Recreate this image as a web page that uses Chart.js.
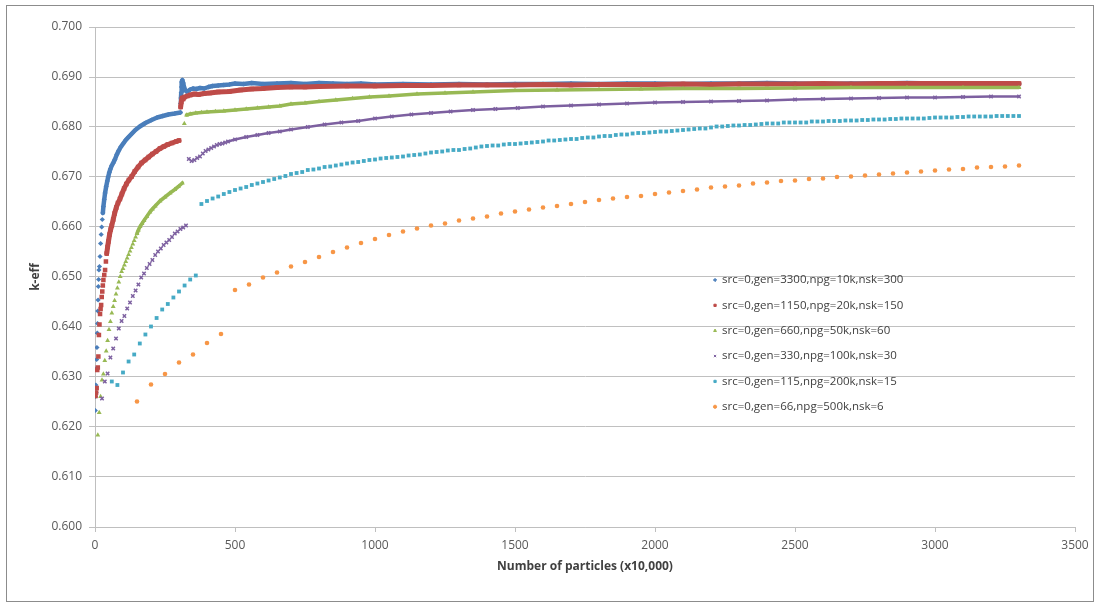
<!DOCTYPE html>
<html>
<head>
<meta charset="utf-8">
<title>k-eff convergence</title>
<script src="https://cdn.jsdelivr.net/npm/chart.js@4.4.1/dist/chart.umd.min.js"></script>
<style>
  html, body { margin: 0; padding: 0; background: #ffffff; }
  #wrap { position: relative; width: 1100px; height: 605px; }
</style>
</head>
<body>
<div id="wrap"><canvas id="chart" width="1100" height="605"></canvas></div>
<script>
// Series labels (legend)
const seriesLabels = [
  "src=0,gen=3300,npg=10k,nsk=300",
  "src=0,gen=1150,npg=20k,nsk=150",
  "src=0,gen=660,npg=50k,nsk=60",
  "src=0,gen=330,npg=100k,nsk=30",
  "src=0,gen=115,npg=200k,nsk=15",
  "src=0,gen=66,npg=500k,nsk=6"
];

// Axis ticks
const xTicks = [0, 500, 1000, 1500, 2000, 2500, 3000, 3500];
const yTicks = [0.600, 0.610, 0.620, 0.630, 0.640, 0.650, 0.660, 0.670, 0.680, 0.690, 0.700];

// gen=3300, npg=10k
const blueX = [1,2,3,4,5,6,7,8,9,10,11,12,13,14,16,18,20,22,24,26,28,30,
  33,36,40,44,47,51,55,60,65,71,78,85,92,101,110,120,132,144,160,180,202,222,242,262,285,305,
  306,307,308,309,310,312,315,318,322,327,333,340,350,362,375,390,405,420,440,460,480,500,
  530,560,600,650,700,750,800,850,900,950,1000,
  1100,1200,1300,1400,1500,1600,1700,1800,1900,2000,2100,2200,2300,2400,2500,2600,2700,2800,2900,3000,3100,3200,3300];
const blueY = [.6233,.6261,.6284,.6269,.6317,.6335,.6359,.6388,.6407,.6432,.6454,.6481,.6495,.6514,.6521,.6541,.6567,.6585,.6600,.6615,.6628,.6641,
  .6655,.6668,.6681,.6692,.6700,.6709,.6716,.6723,.6728,.6735,.6745,.6753,.6760,.6767,.6774,.6780,.6787,.6794,.6801,.6808,.6814,.6819,.6822,.6825,.6827,.6829,
  .6847,.6858,.6869,.6880,.6890,.6894,.6888,.6880,.6874,.6871,.6872,.6875,.6877,.6876,.6878,.6877,.6880,.6882,.6883,.6884,.6885,.6887,
  .6886,.6888,.6886,.6887,.6888,.6886,.6888,.6887,.6886,.6887,.6885,
  .6886,.6885,.6886,.6885,.6886,.6886,.6887,.6886,.6887,.6887,.6886,.6887,.6887,.6888,.6887,.6886,.6887,.6887,.6888,.6887,.6887,.6887,.6886];

// gen=1150, npg=20k
const redX = [2,4,6,8,10,12,14,16,18,20,22,24,26,28,30,33,36,39,42,45,48,
  52,56,60,65,70,76,82,89,96,104,112,121,131,142,154,166,179,192,205,218,232,246,260,275,290,300,
  306,308,311,315,320,330,340,355,370,390,410,440,480,520,560,600,650,700,750,800,
  900,1000,1100,1200,1300,1400,1500,1600,1700,1800,1900,2000,2100,2200,2300,2400,2500,2600,2700,2800,2900,3000,3100,3200,3300];
const redY = [.6262,.6269,.6278,.6314,.6319,.6341,.6384,.6405,.6426,.6436,.6444,.6460,.6471,.6483,.6494,.6504,.6514,.6531,.6547,.6560,.6571,
  .6585,.6595,.6603,.6615,.6627,.6639,.6648,.6656,.6666,.6677,.6686,.6694,.6701,.6711,.6720,.6728,.6734,.6740,.6746,.6751,.6757,.6761,.6765,.6768,.6771,.6773,
  .6840,.6850,.6858,.6856,.6860,.6862,.6864,.6866,.6865,.6867,.6868,.6870,.6871,.6874,.6876,.6877,.6879,.6880,.6880,.6881,
  .6882,.6882,.6883,.6883,.6884,.6884,.6884,.6885,.6884,.6885,.6885,.6885,.6886,.6885,.6886,.6886,.6886,.6887,.6886,.6887,.6887,.6887,.6887,.6887,.6887];

// gen=660, npg=50k
const greenX = [10,15,20,25,30,35,40,45,50,55,60,65,70,75,80,85,90,95,100,105,110,115,120,125,130,135,140,145,
  150,155,161,168,175,185,196,205,215,232,250,268,285,298,312,
  319,327,340,360,380,400,430,460,500,540,580,620,660,700,750,800,860,920,980,1050,1150,1250,1350,1500,1650,1800,1950,2100,2300,2500,2700,2900,3100,3300];
const greenY = [.6184,.6229,.6261,.6294,.6306,.6333,.6352,.6373,.6395,.6411,.6428,.6441,.6453,.6466,.6478,.6490,.6501,.6511,.6517,.6524,.6531,.6538,.6545,.6552,.6559,.6566,.6573,.6580,
  .6587,.6594,.6601,.6607,.6613,.6621,.6630,.6636,.6642,.6652,.6660,.6668,.6675,.6681,.6688,
  .6807,.6824,.6826,.6828,.6829,.6830,.6831,.6832,.6834,.6836,.6838,.6840,.6842,.6846,.6848,.6851,.6854,.6857,.6860,.6862,.6866,.6868,.6870,.6873,.6874,.6875,.6876,.6877,.6877,.6878,.6879,.6879,.6879,.6879];

// gen=330, npg=100k
const purpleX = [25,35,45,55,65,75,85,95,105,115,125,135,145,155,165,175,185,195,205,215,225,235,245,255,265,275,285,295,305,315,325,
  335,345,355,365,375,385,395,405,415,425,435,445,455,465,475,
  500,540,580,620,660,700,760,820,880,940,1000,1060,1130,1200,1270,1350,1430,1510,1600,1700,1800,1900,2000,2100,2200,2300,2400,2500,2600,2700,2800,2900,3000,3100,3200,3300];
const purpleY = [.6257,.6291,.6307,.6339,.6357,.6377,.6397,.6412,.6422,.6437,.6449,.6462,.6473,.6485,.6499,.6507,.6518,.6526,.6534,.6544,.6551,.6557,.6564,.6569,.6574,.6580,.6587,.6591,.6596,.6599,.6603,
  .6736,.6732,.6734,.6738,.6741,.6747,.6752,.6755,.6758,.6761,.6764,.6766,.6767,.6769,.6771,
  .6775,.6780,.6784,.6788,.6791,.6795,.6800,.6805,.6809,.6812,.6817,.6821,.6825,.6828,.6831,.6834,.6836,.6838,.6841,.6843,.6845,.6847,.6849,.6850,.6851,.6852,.6853,.6855,.6856,.6857,.6858,.6859,.6859,.6860,.6861,.6861];

// gen=115, npg=200k
const cyanX = [60,80,100,120,140,160,180,200,220,240,260,280,300,320,340,360,
  380,400,420,440,460,480,500,520,540,560,580,600,620,640,660,680,700,720,740,760,780,800,820,840,860,880,900,920,940,
  960,980,1000,1020,1040,1060,1080,1100,1120,1140,1160,1180,1200,1220,1240,1260,1280,1300,1320,1340,1360,1380,1400,1420,1440,1460,1480,1500,1520,1540,1560,1580,1600,1620,1640,1660,
  1680,1700,1720,1740,1760,1780,1800,1820,1840,1860,1880,1900,1920,1940,1960,1980,2000,2020,2040,2060,2080,2100,2120,2140,
  2160,2180,2200,2220,2240,2260,2280,2300,2320,2340,2360,2380,2400,2420,2440,2460,2480,2500,2520,2540,2560,2580,2600,2620,2640,2660,2680,2700,2720,2740,
  2760,2780,2800,2820,2840,2860,2880,2900,2920,2940,2960,2980,3000,3020,3040,3060,3080,3100,3120,3140,3160,3180,3200,3220,3240,3260,3280,3300];
const cyanY = [.6291,.6284,.6309,.6331,.6345,.6367,.6385,.6401,.6418,.6435,.6446,.6459,.6471,.6483,.6495,.6503,
  .6646,.6652,.6657,.6661,.6666,.6670,.6674,.6677,.6680,.6684,.6687,.6690,.6693,.6696,.6699,.6702,.6706,.6708,.6710,.6714,.6715,.6717,.6720,.6721,.6723,.6725,.6727,.6729,.6730,
  .6732,.6734,.6735,.6737,.6738,.6739,.6740,.6741,.6743,.6744,.6745,.6747,.6749,.6750,.6751,.6753,.6754,.6754,.6756,.6757,.6759,.6761,.6762,.6763,.6763,.6765,.6766,.6766,.6767,.6768,.6769,.6770,.6771,.6773,.6773,.6774,
  .6775,.6776,.6776,.6778,.6779,.6779,.6781,.6782,.6782,.6784,.6785,.6785,.6787,.6788,.6788,.6789,.6790,.6791,.6791,.6792,.6793,.6794,.6795,.6796,
  .6797,.6797,.6799,.6801,.6801,.6802,.6803,.6803,.6804,.6804,.6805,.6806,.6807,.6807,.6807,.6809,.6809,.6809,.6809,.6809,.6811,.6811,.6811,.6812,.6812,.6812,.6813,.6813,.6813,.6814,
  .6814,.6815,.6815,.6815,.6816,.6816,.6817,.6817,.6817,.6817,.6817,.6818,.6819,.6819,.6819,.6819,.6820,.6820,.6821,.6821,.6821,.6821,.6821,.6822,.6822,.6822,.6822,.6822];

// gen=66, npg=500k
const orangeX = [150,200,250,300,350,400,450,
  500,550,600,650,700,750,800,850,900,950,1000,1050,1100,1150,1200,1250,1300,1350,1400,1450,1500,1550,1600,1650,1700,1750,1800,1850,1900,1950,
  2000,2050,2100,2150,2200,2250,2300,2350,2400,2450,2500,2550,2600,2650,2700,2750,2800,2850,2900,2950,3000,3050,3100,3150,3200,3250,3300];
const orangeY = [.6251,.6285,.6306,.6329,.6345,.6368,.6386,
  .6474,.6485,.6499,.6509,.6521,.6530,.6540,.6550,.6559,.6568,.6576,.6584,.6591,.6597,.6603,.6607,.6613,.6617,.6621,.6627,.6631,.6635,.6639,.6642,.6646,.6650,.6654,.6657,.6660,.6662,
  .6666,.6669,.6672,.6675,.6679,.6681,.6683,.6687,.6689,.6692,.6693,.6696,.6697,.6700,.6701,.6703,.6705,.6707,.6709,.6711,.6713,.6715,.6716,.6719,.6720,.6721,.6723];

// Marker / line styling per series
const styles = [
  { color: '#4A7EBB', pointStyle: 'rectRot', radius: 2.6, line: 4.5, lineFrom: 28 },
  { color: '#BE4B48', pointStyle: 'rect', radius: 3.2, line: 5, lineFrom: 42 },
  { color: '#98B954', pointStyle: 'triangle', radius: 2.8, line: 3.6, lineFrom: 150 },
  { color: '#7D60A0', pointStyle: 'crossRot', radius: 2.4, line: 2.6, lineFrom: 475 },
  { color: '#46AAC5', pointStyle: 'rect', radius: 2.7, line: 0, lineFrom: Infinity },
  { color: '#F79646', pointStyle: 'circle', radius: 2.3, line: 0, lineFrom: Infinity }
];

const seriesX = [blueX, redX, greenX, purpleX, cyanX, orangeX];
const seriesY = [blueY, redY, greenY, purpleY, cyanY, orangeY];

function pairs(xs, ys) {
  const n = Math.min(xs.length, ys.length);
  const out = [];
  for (let i = 0; i < n; i++) out.push({ x: xs[i], y: ys[i] });
  return out;
}

// join neighbouring points only in the dense part and not across jumps
function joined(ctx, from) {
  if (ctx.p0.parsed.x < from) return false;
  return Math.abs(ctx.p1.y - ctx.p0.y) < 8;
}

const datasets = seriesLabels.map((label, i) => {
  const s = styles[i];
  return {
    label: label,
    data: pairs(seriesX[i], seriesY[i]),
    showLine: s.line > 0,
    borderColor: s.color,
    borderWidth: s.line,
    borderCapStyle: 'round',
    borderJoinStyle: 'round',
    segment: { borderColor: ctx => joined(ctx, s.lineFrom) ? s.color : 'transparent' },
    pointStyle: s.pointStyle,
    pointRadius: s.radius,
    pointHoverRadius: s.radius,
    pointBackgroundColor: s.color,
    pointBorderColor: s.color,
    pointBorderWidth: s.pointStyle === 'crossRot' ? 1.5 : 0,
    order: 6 - i
  };
});

const tickFont = { family: '"Open Sans", "Liberation Sans", sans-serif', size: 12 };
const titleFont = { family: '"Open Sans", "Liberation Sans", sans-serif', size: 12, weight: 'bold' };

// White background, outer frame and the in-plot legend
const framePlugin = {
  id: 'frame',
  beforeDraw(chart) {
    const c = chart.ctx;
    c.save();
    c.fillStyle = '#ffffff';
    c.fillRect(0, 0, chart.width, chart.height);
    c.strokeStyle = '#8C8C8C';
    c.lineWidth = 1;
    c.strokeRect(6.5, 5.5, 1087, 596);
    c.restore();
  },
  afterDraw(chart) {
    const c = chart.ctx;
    const a = chart.chartArea;
    const lx = a.left + a.width * 0.6327;
    const ly = a.top + a.height * 0.506;
    const step = a.height * 0.0507;
    c.save();
    c.font = '11.5px "Open Sans", "Liberation Sans", sans-serif';
    c.textBaseline = 'middle';
    seriesLabels.forEach((label, i) => {
      const y = ly + i * step;
      const s = styles[i];
      c.fillStyle = s.color;
      c.strokeStyle = s.color;
      if (Chart.helpers && Chart.helpers.drawPoint) {
        Chart.helpers.drawPoint(c, { pointStyle: s.pointStyle, radius: 1.6, borderWidth: 1, rotation: 0 }, lx, y);
      } else {
        c.fillRect(lx - 1.5, y - 1.5, 3, 3);
      }
      c.fillStyle = '#404040';
      c.fillText(label, lx + 7, y);
    });
    c.restore();
  }
};

new Chart(document.getElementById('chart').getContext('2d'), {
  type: 'scatter',
  data: { datasets: datasets },
  plugins: [framePlugin],
  options: {
    responsive: false,
    animation: false,
    devicePixelRatio: 1,
    layout: { padding: { top: 27, right: 25, left: 0, bottom: 0 } },
    plugins: { legend: { display: false }, tooltip: { enabled: false } },
    scales: {
      x: {
        type: 'linear',
        min: 0,
        max: 3500,
        afterBuildTicks: s => { s.ticks = xTicks.map(v => ({ value: v })); },
        afterFit: s => { s.height = 78; },
        ticks: { font: tickFont, color: '#595959', padding: 6, maxRotation: 0, callback: v => String(v) },
        grid: { drawOnChartArea: false, drawTicks: true, tickLength: 5, color: '#BFBFBF' },
        border: { display: true, color: '#BFBFBF' },
        title: { display: true, text: 'Number of particles (x10,000)', font: titleFont, color: '#404040', padding: { top: 0, bottom: 31 } }
      },
      y: {
        type: 'linear',
        min: 0.6,
        max: 0.7,
        afterBuildTicks: s => { s.ticks = yTicks.map(v => ({ value: v })); },
        afterFit: s => { s.width = 95; },
        ticks: { font: tickFont, color: '#595959', padding: 7, callback: v => v.toFixed(3) },
        grid: { color: '#C0C0C0', lineWidth: 1, drawTicks: true, tickLength: 6 },
        border: { display: true, color: '#BFBFBF' },
        title: { display: true, text: 'k-eff', font: titleFont, color: '#404040', padding: { top: 28, bottom: 0 } }
      }
    }
  }
});
</script>
</body>
</html>
